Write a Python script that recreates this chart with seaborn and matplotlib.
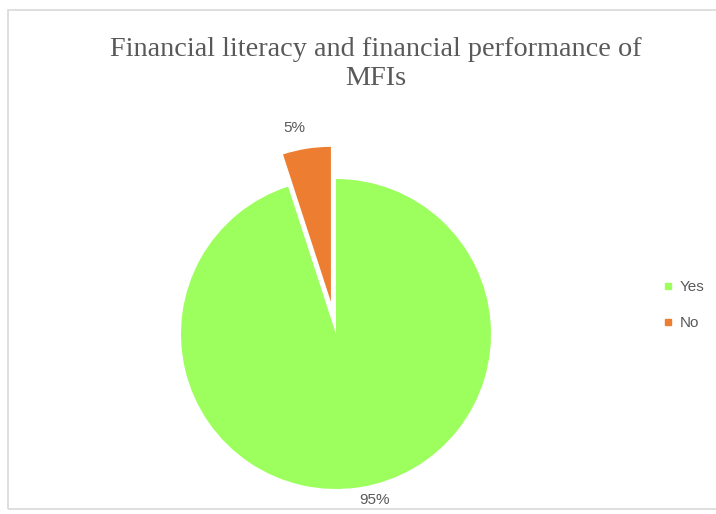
import matplotlib
matplotlib.use("Agg")
import matplotlib.pyplot as plt
from matplotlib.patches import Rectangle
from matplotlib.lines import Line2D
import seaborn as sns

# Survey responses: does financial literacy affect MFI performance?
categories = ["Yes", "No"]
shares = [95, 5]
colors = ["#9CFF5E", "#ED7D31"]
title = "Financial literacy and financial performance of\nMFIs"

sns.set_theme(style="white")
plt.rcParams["font.family"] = ["Liberation Sans", "DejaVu Sans"]

W, H = 716, 514
fig = plt.figure(figsize=(W / 100, H / 100), dpi=100)
fig.patch.set_facecolor("white")

# chart-area border
fig.add_artist(Rectangle((8 / W, (H - 509) / H), (W - 8) / W + 0.01, (509 - 10) / H,
                         transform=fig.transFigure, fill=False,
                         edgecolor="#D9D9D9", linewidth=1.2))

# pie axes: centre (336, 334) px, radius 155 px
cx, cy, r = 336, 334, 155
lim = 1.4
half = lim * r
ax = fig.add_axes([(cx - half) / W, (H - cy - half) / H, 2 * half / W, 2 * half / H])

wedges, _ = ax.pie(shares, colors=colors, startangle=90, counterclock=False,
                   explode=[0, 0.21], radius=1.0,
                   wedgeprops=dict(linewidth=0))
ax.set_xlim(-lim, lim)
ax.set_ylim(-lim, lim)
ax.axis("off")

label_color = "#595959"
ax.text(0.25, -1.07, f"{shares[0]}%", ha="center", va="center",
        fontsize=11, color=label_color)
ax.text(-0.27, 1.33, f"{shares[1]}%", ha="center", va="center",
        fontsize=11, color=label_color)

fig.text(376 / W, 1 - 64 / H, title, ha="center", va="center",
         fontsize=20.3, color="#595959", family="Liberation Serif",
         linespacing=1.22)

handles = [Line2D([], [], marker="s", linestyle="none", markersize=4.5,
                  markerfacecolor=c, markeredgecolor=c) for c in colors]
leg = fig.legend(handles, categories, loc="center left",
                 bbox_to_anchor=(648 / W, 1 - 305 / H), frameon=False,
                 fontsize=11, labelspacing=1.45, handletextpad=0.35,
                 handlelength=0.8)
for t in leg.get_texts():
    t.set_color(label_color)

fig.savefig("out.png", dpi=100)
